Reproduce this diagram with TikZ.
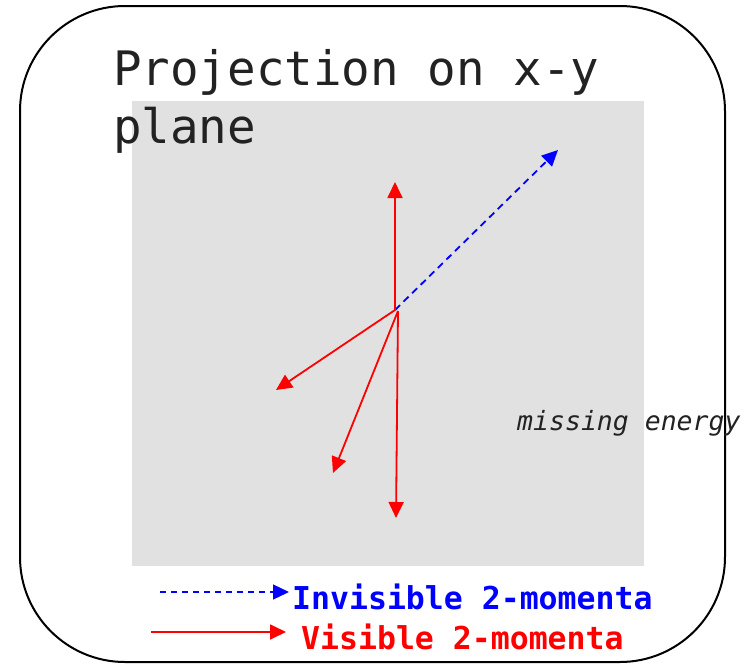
\documentclass[tikz,border=0pt]{standalone}
\usepackage{fontspec}
\setmonofont{DejaVu Sans Mono}
\usetikzlibrary{arrows.meta}
\definecolor{panel}{HTML}{E1E1E1}
\definecolor{ink}{HTML}{222222}
\tikzset{
  mom/.style={line width=1.8pt, -{Triangle[length=16pt,width=15pt]}},
  vis/.style={mom, red},
  invis/.style={mom, blue, dashed, dash pattern=on 7pt off 5pt},
  legtext/.style={font=\ttfamily\bfseries\fontsize{31.5}{36}\selectfont, inner sep=0pt, anchor=base west},
}
\begin{document}
\begin{tikzpicture}[x=1pt,y=-1pt]
\useasboundingbox (0,0) rectangle (748,665);
\draw[line width=2pt, rounded corners=105pt] (20,6) rectangle (725,662);
\fill[panel] (132,101) rectangle (644,566);
\node[font=\ttfamily\fontsize{47.5}{58}\selectfont, text=ink, inner sep=0pt, anchor=base west, align=left] (title) at (113,143) {Projection on x-y\\plane};
\node[font=\ttfamily\itshape\fontsize{26.5}{30}\selectfont, text=ink, inner sep=0pt, anchor=base west] (miss) at (517,430) {missing energy};
\coordinate (o) at (395,310);
\coordinate (o2) at (398,311);
\coordinate (up) at (395,182);
\coordinate (met) at (558,150);
\coordinate (a1) at (276,390);
\coordinate (a2) at (333,473);
\coordinate (a3) at (396,518);
\draw[invis] (o) -- (met);
\draw[vis] (o) -- (up);
\draw[vis] (o) -- (a1);
\draw[vis] (o2) -- (a2);
\draw[vis] (o2) -- (a3);
% legend
\node[legtext, text=blue] (linv) at (292,609) {Invisible 2-momenta};
\node[legtext, text=red] (lvis) at (301,649) {Visible 2-momenta};
\coordinate (li0) at (160,592);
\coordinate (li1) at (289,592);
\coordinate (lv0) at (151,632);
\coordinate (lv1) at (286,632);
\draw[invis, line width=1.3pt, dash pattern=on 6pt off 5pt] (li0) -- (li1);
\draw[vis] (lv0) -- (lv1);
\end{tikzpicture}
\end{document}
